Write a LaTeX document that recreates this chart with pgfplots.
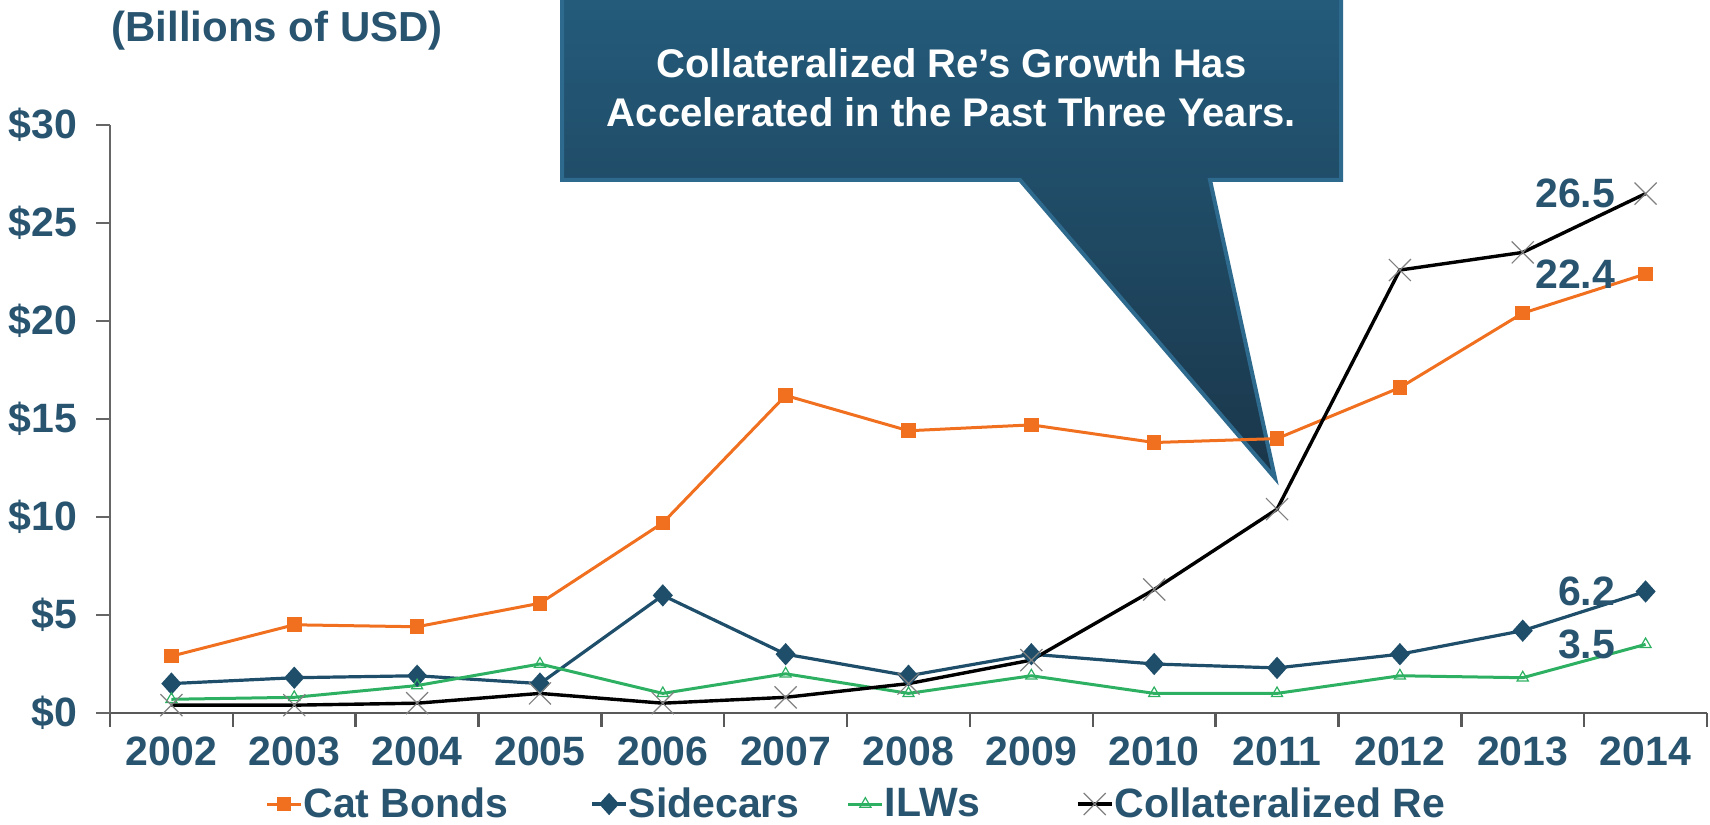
\documentclass[border=0pt]{standalone}
\usepackage{fontspec}
\setmainfont{Liberation Sans}
\usepackage{pgfplots}
\pgfplotsset{compat=1.18}
\definecolor{txt}{RGB}{40,84,112}
\definecolor{cat}{RGB}{240,112,32}
\definecolor{side}{RGB}{31,78,107}
\definecolor{ilw}{RGB}{46,176,98}
\definecolor{boxtop}{RGB}{36,92,124}
\definecolor{boxbot}{RGB}{26,54,74}
\definecolor{boxedge}{RGB}{46,106,142}
\newcommand{\tfont}{\bfseries\fontsize{20.5}{24}\selectfont}
\begin{document}
\begin{tikzpicture}
\useasboundingbox (0,0) rectangle (855pt,412.5pt);
\begin{scope}
\clip (0,0) rectangle (855pt,412.5pt);
\shade[top color=boxtop, bottom color=boxbot] (281pt,420pt) -- (670.5pt,420pt) -- (670.5pt,322.5pt) -- (605pt,322.5pt) -- (637.5pt,173.5pt) -- (510pt,322.5pt) -- (281pt,322.5pt) -- cycle;
\draw[boxedge, line width=2pt, line join=miter] (281pt,420pt) -- (670.5pt,420pt) -- (670.5pt,322.5pt) -- (605pt,322.5pt) -- (637.5pt,173.5pt) -- (510pt,322.5pt) -- (281pt,322.5pt) -- cycle;
\end{scope}
\node[align=center, text=white, font=\bfseries\fontsize{20}{24.5}\selectfont] at (475.75pt,368.75pt) {Collateralized Re’s Growth Has\\Accelerated in the Past Three Years.};
\begin{axis}[
  at={(55pt,56pt)}, anchor=south west, scale only axis,
  width=798.5pt, height=294pt,
  xmin=-0.5, xmax=12.5, ymin=0, ymax=30,
  axis x line*=bottom, axis y line*=left,
  x axis line style={draw=black!65, line width=1.4pt, -},
  y axis line style={draw=black!60, line width=0.8pt, -},
  tick align=outside,
  major tick length=0pt,
  minor tick length=7pt,
  xtick={0,1,2,3,4,5,6,7,8,9,10,11,12},
  xticklabels={2002,2003,2004,2005,2006,2007,2008,2009,2010,2011,2012,2013,2014},
  minor xtick={-0.5,0.5,1.5,2.5,3.5,4.5,5.5,6.5,7.5,8.5,9.5,10.5,11.5,12.5},
  ytick={0,5,10,15,20,25,30},
  yticklabels={\$0,\$5,\$10,\$15,\$20,\$25,\$30},
  minor ytick={0,5,10,15,20,25,30},
  minor x tick style={draw=black!65, line width=1.2pt},
  minor y tick style={draw=black!60, line width=0.8pt},
  major tick style={draw=none},
  ticklabel style={font=\tfont, text=txt},
  xticklabel style={yshift=-8.5pt},
  yticklabel style={xshift=-13pt},
  legend columns=4,
  legend cell align=left,
  legend style={at={(0.097,-0.1548)}, anchor=west, draw=none, fill=none, inner sep=0pt, column sep=0pt, font=\tfont, text=txt, nodes={inner sep=0.5pt}},
  clip=false,
]
\addplot[cat, line width=1.5pt, mark=square*, mark size=2.9pt] coordinates {
(0,2.9) (1,4.5) (2,4.4) (3,5.6) (4,9.7) (5,16.2) (6,14.4) (7,14.7) (8,13.8) (9,14.0) (10,16.6) (11,20.4) (12,22.4)};
\addlegendentry{\makebox[143pt][l]{Cat Bonds}}
\addplot[side, line width=1.6pt, mark=diamond*, mark size=4.4pt, mark options={xscale=1.2}] coordinates {
(0,1.5) (1,1.8) (2,1.9) (3,1.5) (4,6.0) (5,3.0) (6,1.9) (7,3.0) (8,2.5) (9,2.3) (10,3.0) (11,4.2) (12,6.2)};
\addlegendentry{\makebox[108.5pt][l]{Sidecars}}
\addplot[ilw, line width=1.5pt, mark=triangle, mark size=3.2pt, mark options={fill=white, line width=0.6pt}] coordinates {
(0,0.7) (1,0.8) (2,1.4) (3,2.5) (4,1.0) (5,2.0) (6,1.0) (7,1.9) (8,1.0) (9,1.0) (10,1.9) (11,1.8) (12,3.5)};
\addlegendentry{\makebox[95pt][l]{ILWs}}
\addplot[black, line width=1.7pt, mark=x, mark size=7.8pt, mark options={draw=gray, line width=0.6pt}] coordinates {
(0,0.4) (1,0.4) (2,0.5) (3,1.0) (4,0.5) (5,0.8) (6,1.5) (7,2.7) (8,6.3) (9,10.4) (10,22.6) (11,23.5) (12,26.5)};
\addlegendentry{Collateralized Re}
\node[anchor=east, inner sep=0pt, font=\tfont, text=txt, xshift=-15pt] at (axis cs:12,26.5) {26.5};
\node[anchor=east, inner sep=0pt, font=\tfont, text=txt, xshift=-15pt] at (axis cs:12,22.4) {22.4};
\node[anchor=east, inner sep=0pt, font=\tfont, text=txt, xshift=-15pt] at (axis cs:12,6.2) {6.2};
\node[anchor=east, inner sep=0pt, font=\tfont, text=txt, xshift=-15pt] at (axis cs:12,3.5) {3.5};
\end{axis}
\node[anchor=west, inner sep=0pt, font=\bfseries\fontsize{21}{24}\selectfont, text=txt] at (55.5pt,397pt) {(Billions of USD)};
\end{tikzpicture}
\end{document}
